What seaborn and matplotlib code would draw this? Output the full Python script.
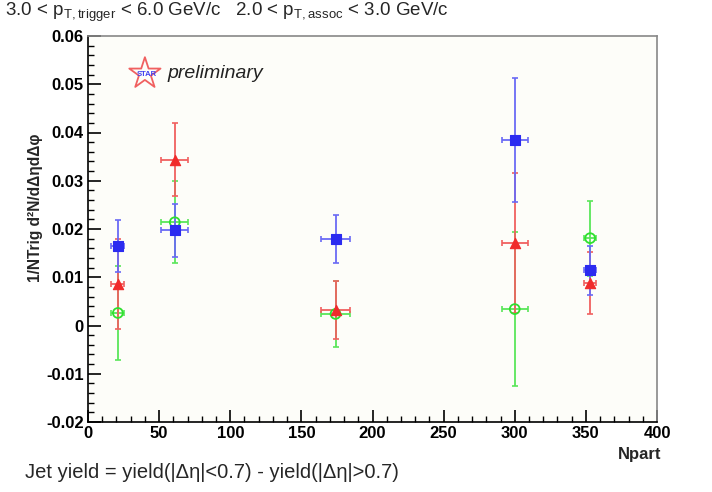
import numpy as np
import pandas as pd
import matplotlib
matplotlib.use("Agg")
import matplotlib.pyplot as plt
import seaborn as sns
from matplotlib.ticker import MultipleLocator

sns.set_theme(style="white")
plt.rcParams['font.family'] = ['Liberation Sans', 'DejaVu Sans']

# ---- data ----
npart = [21, 61, 174, 300, 353]
npart_err = [4.5, 9.5, 10, 9, 4]
blue_y = [0.0164, 0.0197, 0.0180, 0.0384, 0.0114]
blue_err = [0.0054, 0.0055, 0.0050, 0.0129, 0.0050]
red_y = [0.0086, 0.0344, 0.0033, 0.0171, 0.0088]
red_err = [0.0093, 0.0076, 0.0060, 0.0146, 0.0065]
green_y = [0.0026, 0.0214, 0.0024, 0.0034, 0.0181]
green_err = [0.0097, 0.0085, 0.0069, 0.0160, 0.0078]

series = [
    ("blue", blue_y, blue_err, "#2b2bf0", "#6a6af5", "s", True),
    ("red", red_y, red_err, "#f02b2b", "#f06060", "^", True),
    ("green", green_y, green_err, "#2ee02e", "#5ae65a", "o", False),
]

fig = plt.figure(figsize=(7.12, 4.92), dpi=100)
ax = fig.add_axes([88/712, 1-422/492, (657-88)/712, (422-36)/492])
ax.set_facecolor("#fdfdf9")

rows = []
for name, ys, es, c, lc, m, filled in series:
    for x, y in zip(npart, ys):
        rows.append(dict(Npart=x, val=y, s=name))
df = pd.DataFrame(rows)

# draw order: green, red, blue (blue on top)
for name, ys, es, c, lc, m, filled in [series[2], series[1], series[0]]:
    ax.errorbar(npart, ys, yerr=es, xerr=npart_err, fmt="none", ecolor=lc,
                elinewidth=1.3, capsize=2.5, capthick=1.2, zorder=2)
    sub = df[df.s == name]
    if filled:
        sns.scatterplot(data=sub, x="Npart", y="val", marker=m, color=c, s=55,
                        edgecolor=c, linewidth=0.8, ax=ax, zorder=3, legend=False)
    else:
        sns.scatterplot(data=sub, x="Npart", y="val", marker=m, s=50,
                        facecolor="none", edgecolor=c, linewidth=1.3, ax=ax,
                        zorder=3, legend=False)

ax.set_xlim(0, 400)
ax.set_ylim(-0.02, 0.06)
ax.xaxis.set_major_locator(MultipleLocator(50))
ax.xaxis.set_minor_locator(MultipleLocator(10))
ax.yaxis.set_major_locator(MultipleLocator(0.01))
ax.yaxis.set_minor_locator(MultipleLocator(0.002))
ax.tick_params(which="both", direction="in", top=False, right=False,
               left=True, bottom=True, colors="black")
ax.tick_params(which="major", length=9, width=1.2)
ax.tick_params(which="minor", length=4.5, width=1.0)
ax.set_xticks([0, 50, 100, 150, 200, 250, 300, 350, 400])
ax.set_xticklabels(["0", "50", "100", "150", "200", "250", "300", "350", "400"],
                   fontsize=12, fontweight="bold")
ax.set_yticks([-0.02, -0.01, 0, 0.01, 0.02, 0.03, 0.04, 0.05, 0.06])
ax.set_yticklabels(["-0.02", "-0.01", "0", "0.01", "0.02", "0.03", "0.04", "0.05", "0.06"],
                   fontsize=12, fontweight="bold")
ax.tick_params(axis="x", pad=3)
ax.tick_params(axis="y", pad=3)
for sp in ax.spines.values():
    sp.set_color("black")
    sp.set_linewidth(1.2)
ax.spines["top"].set_color("#888888")
ax.spines["right"].set_color("#888888")
ax.set_xlabel("")
ax.set_ylabel("")

# y label
fig.text(36/712, 1-208/492, "1/NTrig d²N/dΔηdΔφ",
         rotation=90, ha="center", va="center", fontsize=11.2, fontweight="bold")
fig.text(640/712, 1-455/492, "Npart", ha="center", va="center",
         fontsize=12, fontweight="bold")

# top title
fig.text(5/712, 1-12/492,
         r"3.0 < p$_{\mathregular{T,trigger}}$ < 6.0 GeV/c   2.0 < p$_{\mathregular{T,assoc}}$ < 3.0 GeV/c",
         ha="left", va="center", fontsize=13.5)

# bottom formula
fig.text(25/712, 1-472/492,
         "Jet yield = yield(|Δη|<0.7) - yield(|Δη|>0.7)",
         ha="left", va="center", fontsize=14.5)

# STAR preliminary
ax.scatter([40], [0.0522], marker="*", s=560, facecolor="none",
           edgecolor="#f06060", linewidth=1.3, zorder=4)
ax.text(41, 0.0521, "STAR", color="#4040f0", fontsize=5.5, fontweight="bold",
        ha="center", va="center", zorder=5)
ax.text(56, 0.0522, "preliminary", fontsize=14, style="italic", color="#222222",
        ha="left", va="center", zorder=5)

fig.savefig("out.png", dpi=100)
